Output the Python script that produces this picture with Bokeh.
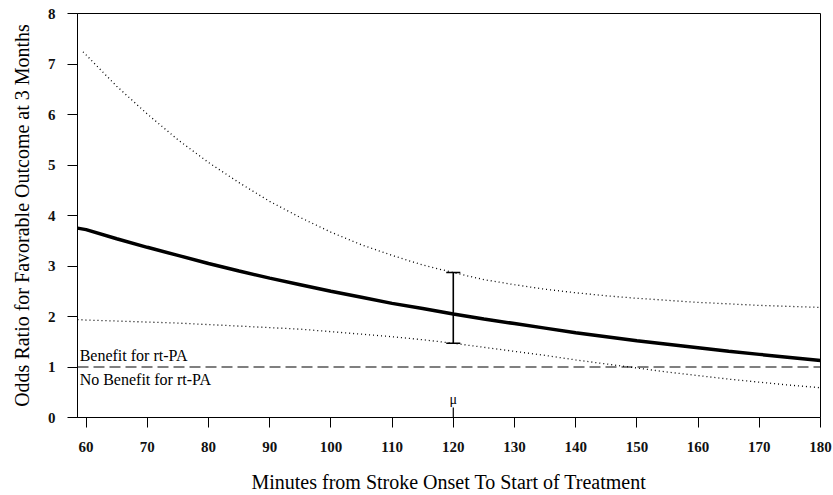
from bokeh.plotting import figure
from bokeh.models import FixedTicker, Range1d, ColumnDataSource
from bokeh.core.properties import value
from bokeh.embed import file_html
from bokeh.resources import INLINE

# Minutes from stroke onset
minutes = [60, 65, 70, 75, 80, 85, 90, 95, 100, 105, 110, 115, 120,
           125, 130, 135, 140, 145, 150, 155, 160, 165, 170, 175, 180]
# Odds ratio (estimate)
odds_ratio = [3.72, 3.54, 3.37, 3.21, 3.05, 2.90, 2.76, 2.63, 2.50, 2.38, 2.26, 2.16, 2.05,
              1.95, 1.86, 1.77, 1.68, 1.60, 1.52, 1.45, 1.38, 1.31, 1.25, 1.19, 1.13]
# Upper confidence limit
upper_ci = [7.18, 6.56, 6.01, 5.50, 5.05, 4.65, 4.28, 3.96, 3.67, 3.42, 3.21, 3.02, 2.87,
            2.73, 2.63, 2.54, 2.47, 2.41, 2.36, 2.32, 2.28, 2.25, 2.22, 2.20, 2.18]
# Lower confidence limit
lower_ci = [1.93, 1.91, 1.89, 1.87, 1.84, 1.81, 1.78, 1.75, 1.70, 1.65, 1.60, 1.54, 1.47,
            1.39, 1.31, 1.23, 1.14, 1.06, 0.98, 0.90, 0.83, 0.76, 0.70, 0.64, 0.59]
# start values at the left frame edge
start_minute = 58.6
start_or = 3.75
start_upper_minute = 59.5
start_upper = 7.24
start_lower = 1.94

# error bar at the mean time
mean_minute = [120]
bar_low = [1.47]
bar_high = [2.87]

x_ticks = [60, 70, 80, 90, 100, 110, 120, 130, 140, 150, 160, 170, 180]
y_ticks = [0, 1, 2, 3, 4, 5, 6, 7, 8]

FONT = "Liberation Serif"

p = figure(width=833, height=495, output_backend="svg", toolbar_location=None,
           x_range=Range1d(58.6, 180), y_range=Range1d(0, 8),
           min_border_left=77, min_border_right=13, min_border_top=13, min_border_bottom=77)
p.xgrid.visible = False
p.ygrid.visible = False
p.outline_line_color = "black"
p.outline_line_width = 1
p.background_fill_color = "white"

for ax in (p.xaxis[0], p.yaxis[0]):
    ax.axis_line_color = "black"
    ax.axis_line_width = 1
    ax.major_tick_in = 0
    ax.major_tick_out = 10
    ax.minor_tick_out = 0
    ax.minor_tick_in = 0
    ax.major_tick_line_color = "black"
    ax.major_label_text_font = FONT
    ax.major_label_text_font_size = "15px"
    ax.major_label_text_font_style = "bold"
    ax.major_label_text_color = "#111111"
    ax.axis_label_text_font = FONT
    ax.axis_label_text_font_style = "normal"
    ax.axis_label_text_font_size = "20px"
    ax.axis_label_text_color = "black"

p.xaxis.ticker = FixedTicker(ticks=x_ticks)
p.yaxis.ticker = FixedTicker(ticks=y_ticks)
p.xaxis.axis_label = "Minutes from Stroke Onset To Start of Treatment"
p.yaxis.axis_label = "Odds Ratio for Favorable Outcome at 3 Months"
p.xaxis.major_label_standoff = 14
p.yaxis.major_label_standoff = 12
p.xaxis.axis_label_standoff = 16
p.yaxis.axis_label_standoff = 12

# reference line at OR = 1
p.line(x=[start_minute, 180], y=[1, 1], line_color="black", line_width=1.2, line_dash="11 5")

# confidence limits
p.line(x=[start_upper_minute] + minutes, y=[start_upper] + upper_ci,
       line_color="black", line_width=1.3, line_dash="1 3")
p.line(x=[start_minute] + minutes, y=[start_lower] + lower_ci,
       line_color="black", line_width=1.3, line_dash="1 3")

# estimate
p.line(x=[start_minute] + minutes, y=[start_or] + odds_ratio, line_color="black", line_width=3.5)

# error bar
src = ColumnDataSource(dict(x=mean_minute, lo=bar_low, hi=bar_high,
                            xl=[m - 1.15 for m in mean_minute], xr=[m + 1.15 for m in mean_minute]))
p.segment(x0="x", y0="lo", x1="x", y1="hi", source=src, line_color="black", line_width=1.6)
p.segment(x0="xl", y0="lo", x1="xr", y1="lo", source=src, line_color="black", line_width=1.6)
p.segment(x0="xl", y0="hi", x1="xr", y1="hi", source=src, line_color="black", line_width=1.6)

# mean marker
p.segment(x0=mean_minute, y0=[0], x1=mean_minute, y1=[0.2], line_color="black", line_width=1.2)
p.text(x=mean_minute, y=[0.2], text=["μ"], text_font=value(FONT), text_font_size="14px",
       text_align="center", text_baseline="bottom", text_color="black")

# region labels
p.text(x=[58.95], y=[1.06], text=["Benefit for rt-PA"], text_font=value(FONT),
       text_font_size="16px", text_align="left", text_baseline="bottom", text_color="black")
p.text(x=[58.95], y=[0.93], text=["No Benefit for rt-PA"], text_font=value(FONT),
       text_font_size="16px", text_align="left", text_baseline="top", text_color="black")

open("out.html", "w").write(file_html(p, INLINE))
